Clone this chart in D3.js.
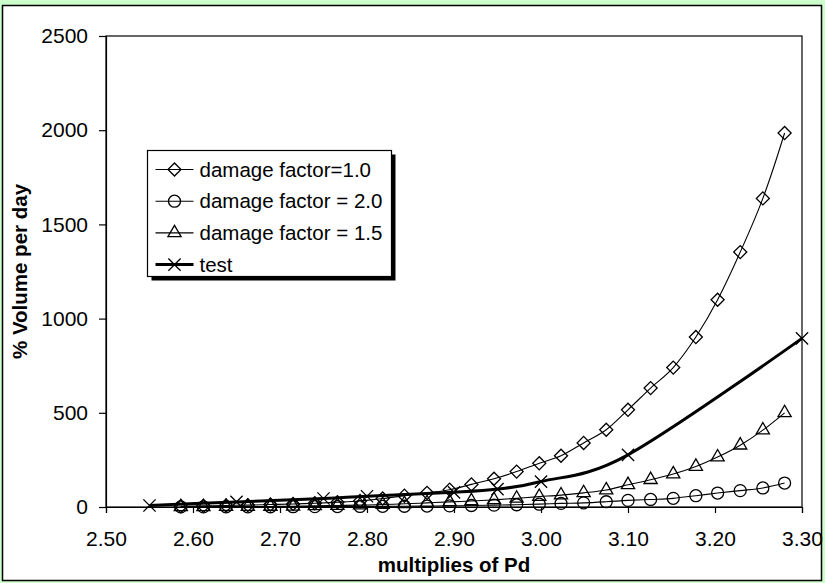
<!DOCTYPE html>
<html>
<head>
<meta charset="utf-8">
<script src="https://cdn.jsdelivr.net/npm/d3@7"></script>
<style>
  body { margin: 0; background: #ccffcc; }
  svg { display: block; font-family: "Liberation Sans", Arial, sans-serif; }
</style>
</head>
<body>
<script>
// chart size
const width = 825;
const height = 583;

// x values shared by the three damage factor series
const pdMultiples = [2.586, 2.612, 2.638, 2.663, 2.689, 2.715, 2.740, 2.766, 2.792, 2.818,
  2.843, 2.869, 2.895, 2.920, 2.946, 2.972, 2.998, 3.023, 3.049, 3.075,
  3.100, 3.126, 3.152, 3.178, 3.203, 3.229, 3.255, 3.280];

const damage10 = [4, 6, 8, 10, 13, 16, 20, 25, 32, 45,
  60, 75, 92, 120, 150, 188, 232, 272, 340, 410,
  516, 631, 740, 902, 1100, 1353, 1638, 1985];

const damage20 = [0.5, 0.7, 0.9, 1.1, 1.4, 1.7, 2, 2.5, 3, 3.5,
  4, 5, 6, 8, 10, 12, 15, 19, 22, 28,
  35, 40, 46, 60, 74, 87, 101, 127];

const damage15 = [1, 1, 2, 2, 3, 4, 6, 8, 10, 13,
  17, 22, 27, 32, 38, 46, 55, 63, 75, 90,
  118, 145, 175, 215, 265, 328, 408, 500];

// measured test points
const testX = [2.55, 2.65, 2.75, 2.80, 2.90, 2.95, 3.00, 3.10, 3.30];
const testY = [8, 27, 45, 57, 78, 95, 135, 277, 895];

const seriesNames = ["damage factor=1.0", "damage factor = 2.0", "damage factor = 1.5", "test"];
const xTicks = [2.5, 2.6, 2.7, 2.8, 2.9, 3.0, 3.1, 3.2, 3.3];
const yTicks = [0, 500, 1000, 1500, 2000, 2500];

const plot = { left: 106, right: 802, top: 36, bottom: 507 };

const svg = d3.select("body")
  .append("svg")
  .attr("width", width)
  .attr("height", height);

// green page + white chart area with frame
svg.append("rect")
  .attr("width", width).attr("height", height)
  .attr("fill", "#ccffcc");
svg.append("rect")
  .attr("x", 2.5).attr("y", 5.5)
  .attr("width", 819).attr("height", 575)
  .attr("fill", "#fff")
  .attr("stroke", "#000")
  .attr("stroke-width", 1.5);

const x = d3.scaleLinear().domain([2.5, 3.3]).range([plot.left, plot.right]);
const y = d3.scaleLinear().domain([0, 2500]).range([plot.bottom, plot.top]);

// plot area border
svg.append("rect")
  .attr("x", plot.left).attr("y", plot.top)
  .attr("width", plot.right - plot.left)
  .attr("height", plot.bottom - plot.top)
  .attr("fill", "#fff")
  .attr("stroke", "#000")
  .attr("stroke-width", 1.2);

// axes
const xAxis = svg.append("g")
  .attr("transform", `translate(0,${plot.bottom})`)
  .call(d3.axisBottom(x).tickValues(xTicks).tickFormat(d3.format(".2f")).tickSize(6).tickPadding(18));
const yAxis = svg.append("g")
  .attr("transform", `translate(${plot.left},0)`)
  .call(d3.axisLeft(y).tickValues(yTicks).tickFormat(d3.format("d")).tickSize(7).tickPadding(11));

[xAxis, yAxis].forEach(g => {
  g.select(".domain").attr("stroke", "#000").attr("stroke-width", 1.2);
  g.selectAll(".tick line").attr("stroke", "#000").attr("stroke-width", 1.2);
  g.selectAll(".tick text")
    .attr("fill", "#000")
    .attr("font-size", 21)
    .attr("font-family", "'Liberation Sans', Arial, sans-serif");
});

// axis titles
svg.append("text")
  .attr("x", (plot.left + plot.right) / 2)
  .attr("y", 572)
  .attr("text-anchor", "middle")
  .attr("font-size", 20.5)
  .attr("font-weight", "bold")
  .text("multiplies of Pd");

svg.append("text")
  .attr("transform", `translate(27,${(plot.top + plot.bottom) / 2}) rotate(-90)`)
  .attr("text-anchor", "middle")
  .attr("font-size", 20.5)
  .attr("font-weight", "bold")
  .text("% Volume per day");

// marker shapes
const symX = {
  draw(ctx, size) {
    const r = Math.sqrt(size) / 2;
    ctx.moveTo(-r, -r); ctx.lineTo(r, r);
    ctx.moveTo(-r, r); ctx.lineTo(r, -r);
  }
};
const markers = [
  { type: d3.symbolSquare, size: 85, rotate: 45 },
  { type: d3.symbolCircle, size: 113, rotate: 0 },
  { type: d3.symbolTriangle, size: 75, rotate: 0 },
  { type: symX, size: 150, rotate: 0 }
];

const series = [
  { xs: pdMultiples, ys: damage10, width: 1.1 },
  { xs: pdMultiples, ys: damage20, width: 1.1 },
  { xs: pdMultiples, ys: damage15, width: 1.1 },
  { xs: testX, ys: testY, width: 3 }
];

const line = d3.line()
  .x(d => x(d[0]))
  .y(d => y(d[1]))
  .curve(d3.curveCardinal.tension(0));

series.forEach((s, i) => {
  const pts = s.xs.map((v, j) => [v, s.ys[j]]);
  svg.append("path")
    .datum(pts)
    .attr("d", line)
    .attr("fill", "none")
    .attr("stroke", "#000")
    .attr("stroke-width", s.width);

  svg.append("g")
    .selectAll("path")
    .data(pts)
    .join("path")
    .attr("d", d3.symbol().type(markers[i].type).size(markers[i].size))
    .attr("transform", d => `translate(${x(d[0])},${y(d[1])}) rotate(${markers[i].rotate})`)
    .attr("fill", "none")
    .attr("stroke", "#000")
    .attr("stroke-width", 1.3);
});

// legend
const legend = svg.append("g").attr("transform", "translate(147.5,150.5)");
const legW = 244, legH = 126, rowH = 31.7;

legend.append("rect")
  .attr("x", 4).attr("y", 4)
  .attr("width", legW).attr("height", legH)
  .attr("fill", "#000");
legend.append("rect")
  .attr("width", legW).attr("height", legH)
  .attr("fill", "#fff")
  .attr("stroke", "#000")
  .attr("stroke-width", 1.2);

seriesNames.forEach((name, i) => {
  const cy = 19 + i * rowH;
  legend.append("line")
    .attr("x1", 8).attr("x2", 46)
    .attr("y1", cy).attr("y2", cy)
    .attr("stroke", "#000")
    .attr("stroke-width", series[i].width);
  legend.append("path")
    .attr("d", d3.symbol().type(markers[i].type).size(markers[i].size))
    .attr("transform", `translate(27,${cy}) rotate(${markers[i].rotate})`)
    .attr("fill", "none")
    .attr("stroke", "#000")
    .attr("stroke-width", 1.3);
  legend.append("text")
    .attr("x", 52)
    .attr("y", cy + 7)
    .attr("font-size", 20.5)
    .text(name);
});
</script>
</body>
</html>
